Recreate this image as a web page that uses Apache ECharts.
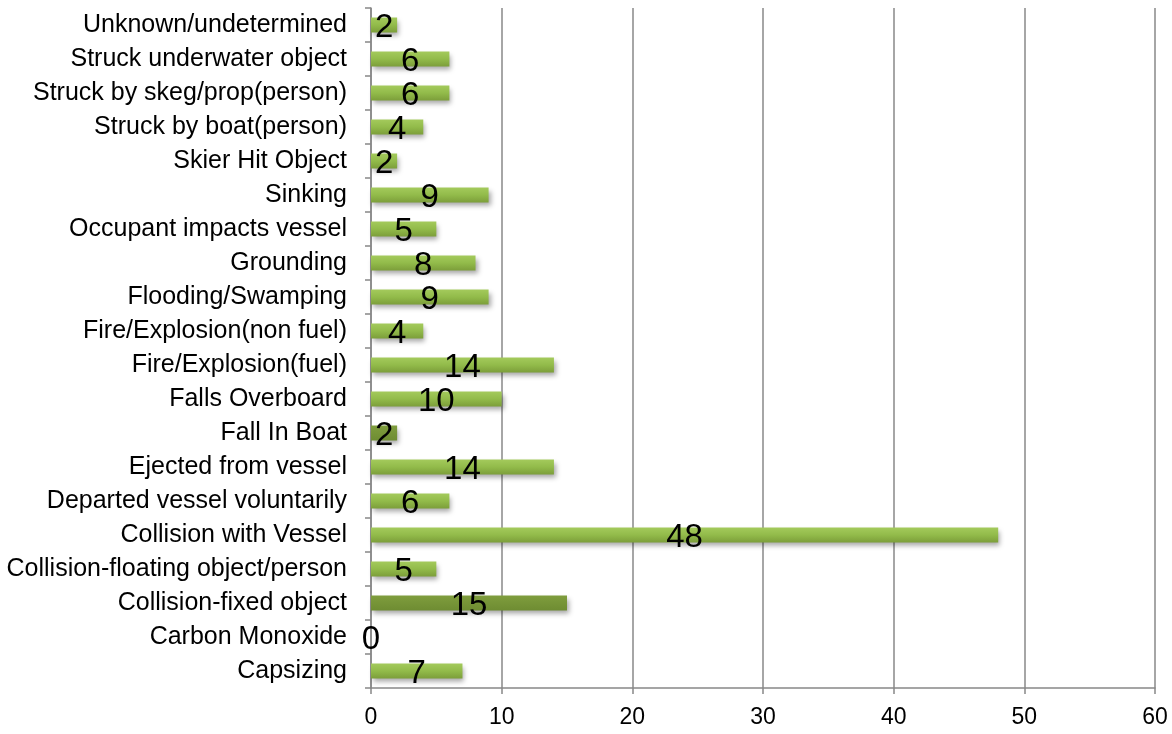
<!DOCTYPE html>
<html><head><meta charset="utf-8">
<script src="https://cdn.jsdelivr.net/npm/echarts@6/dist/echarts.min.js"></script>
<style>html,body{margin:0;padding:0;background:#fff}#c{width:1172px;height:734px}</style>
</head><body><div id="c"></div>
<script>
const categories = ["Capsizing","Carbon Monoxide","Collision-fixed object","Collision-floating object/person","Collision with Vessel","Departed vessel voluntarily","Ejected from vessel","Fall In Boat","Falls Overboard","Fire/Explosion(fuel)","Fire/Explosion(non fuel)","Flooding/Swamping","Grounding","Occupant impacts vessel","Sinking","Skier Hit Object","Struck by boat(person)","Struck by skeg/prop(person)","Struck underwater object","Unknown/undetermined"];
const values = [7,0,15,5,48,6,14,2,10,14,4,9,8,5,9,2,4,6,6,2];
const darkCats = ["Collision-fixed object","Fall In Boat"];
const xTicks = [0,10,20,30,40,50,60];

const font = "'Liberation Sans', 'Open Sans', sans-serif";
const normalGrad = new echarts.graphic.LinearGradient(0,0,0,1,[{offset:0,color:'#a4ca5c'},{offset:0.5,color:'#92bb4a'},{offset:1,color:'#7c9e3a'}]);
const darkGrad = new echarts.graphic.LinearGradient(0,0,0,1,[{offset:0,color:'#7f9d3d'},{offset:1,color:'#6e8c32'}]);

const data = values.map((v,i)=>({
  value:v,
  itemStyle:{color: darkCats.includes(categories[i]) ? darkGrad : normalGrad}
}));

const chart = echarts.init(document.getElementById('c'));
chart.setOption({
  animation:false,
  grid:{left:371,right:17,top:8,bottom:46,containLabel:false},
  xAxis:{type:'value',min:0,max:60,interval:10,
    axisLine:{show:true,lineStyle:{color:'#888',width:1.5}},
    axisTick:{show:true,length:6,lineStyle:{color:'#888',width:1.5}},
    splitLine:{show:true,lineStyle:{color:'#888',width:1.5}},
    axisLabel:{color:'#000',fontSize:23,fontFamily:font,margin:18,
      formatter:v=>xTicks.includes(v)?String(v):''}
  },
  yAxis:{type:'category',data:categories,
    axisLine:{show:true,lineStyle:{color:'#888',width:1.5}},
    axisTick:{show:true,length:6,lineStyle:{color:'#888',width:1.5}},
    axisLabel:{color:'#000',fontSize:25,fontFamily:font,margin:24}
  },
  series:[{type:'bar',data:data,barWidth:15,
    itemStyle:{shadowColor:'rgba(0,0,0,0.35)',shadowBlur:5,shadowOffsetX:2,shadowOffsetY:3},
    label:{show:true,position:'inside',color:'#000',fontSize:33,fontFamily:font,offset:[0,3]}
  }]
});
</script></body></html>
